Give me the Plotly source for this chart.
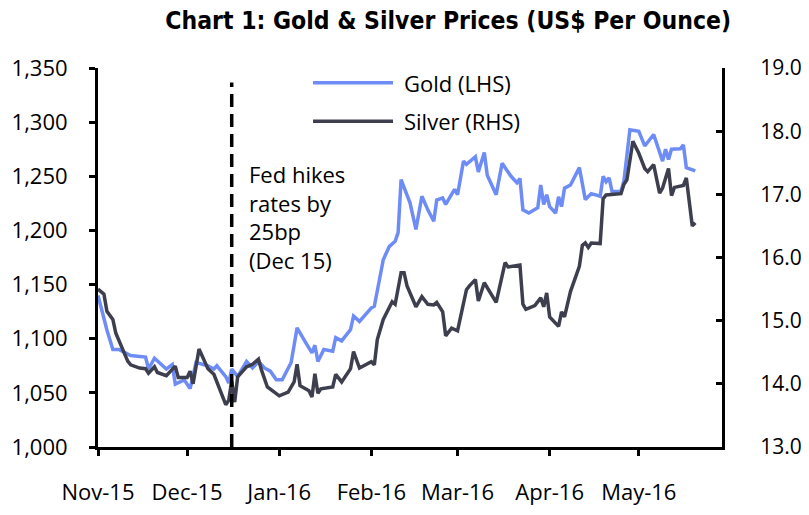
import plotly.graph_objects as go

gold_dates = [
    "2015-11-01", "2015-11-04", "2015-11-06", "2015-11-08", "2015-11-12", "2015-11-17",
    "2015-11-18", "2015-11-20", "2015-11-24", "2015-11-26", "2015-11-27", "2015-11-30",
    "2015-12-02", "2015-12-04", "2015-12-08", "2015-12-10", "2015-12-11", "2015-12-14",
    "2015-12-15", "2015-12-16", "2015-12-18", "2015-12-21", "2015-12-23", "2015-12-25",
    "2015-12-27", "2015-12-29", "2015-12-31", "2016-01-02", "2016-01-05", "2016-01-07",
    "2016-01-10", "2016-01-12", "2016-01-13", "2016-01-14", "2016-01-16", "2016-01-19",
    "2016-01-20", "2016-01-22", "2016-01-25", "2016-01-26", "2016-01-28", "2016-02-01",
    "2016-02-02", "2016-02-05", "2016-02-07", "2016-02-09", "2016-02-10", "2016-02-11",
    "2016-02-14", "2016-02-16", "2016-02-18", "2016-02-20", "2016-02-22", "2016-02-23",
    "2016-02-25", "2016-02-26", "2016-02-29", "2016-03-01", "2016-03-03", "2016-03-04",
    "2016-03-07", "2016-03-08", "2016-03-10", "2016-03-11", "2016-03-14", "2016-03-16",
    "2016-03-19", "2016-03-21", "2016-03-22", "2016-03-23", "2016-03-25", "2016-03-28",
    "2016-03-29", "2016-03-30", "2016-03-31", "2016-04-01", "2016-04-03", "2016-04-04",
    "2016-04-05", "2016-04-06", "2016-04-08", "2016-04-11", "2016-04-13", "2016-04-15",
    "2016-04-18", "2016-04-19", "2016-04-20", "2016-04-21", "2016-04-22", "2016-04-25",
    "2016-04-26", "2016-04-28", "2016-05-01", "2016-05-03", "2016-05-06", "2016-05-09",
    "2016-05-10", "2016-05-11", "2016-05-12", "2016-05-15", "2016-05-16", "2016-05-17",
    "2016-05-20",
]
gold_values = [
    1140, 1108, 1090, 1090, 1084.5, 1083,
    1072, 1082, 1072, 1076, 1058, 1062,
    1054, 1078, 1075, 1072, 1075, 1065,
    1059, 1072, 1065, 1079, 1073, 1079,
    1073, 1070, 1062, 1062, 1078, 1110,
    1096, 1087, 1094, 1079, 1090, 1088.5,
    1101, 1098, 1108.5, 1121, 1116, 1128.5,
    1130, 1173, 1185, 1190, 1198, 1247,
    1225.5, 1201, 1231.6, 1219, 1208.5, 1228,
    1230, 1224, 1238, 1233, 1264, 1261,
    1268, 1254, 1272, 1251, 1233, 1262,
    1250, 1244, 1248, 1219, 1216, 1221,
    1242, 1224, 1233, 1222, 1216, 1231,
    1222, 1239, 1242, 1258, 1228.5, 1234,
    1231.6, 1250, 1245, 1248.6, 1236, 1236,
    1246, 1293, 1291.6, 1278, 1288.6, 1264,
    1275, 1265.5, 1275, 1275.4, 1279, 1258,
    1255,
]

silver_dates = [
    "2015-11-01", "2015-11-03", "2015-11-04", "2015-11-06", "2015-11-07", "2015-11-09",
    "2015-11-11", "2015-11-12", "2015-11-15", "2015-11-17", "2015-11-18", "2015-11-20",
    "2015-11-21", "2015-11-24", "2015-11-26", "2015-11-27", "2015-11-28", "2015-12-01",
    "2015-12-02", "2015-12-03", "2015-12-05", "2015-12-07", "2015-12-08", "2015-12-10",
    "2015-12-12", "2015-12-14", "2015-12-15", "2015-12-16", "2015-12-17", "2015-12-18",
    "2015-12-21", "2015-12-23", "2015-12-25", "2015-12-26", "2015-12-28", "2016-01-01",
    "2016-01-04", "2016-01-06", "2016-01-07", "2016-01-08", "2016-01-11", "2016-01-12",
    "2016-01-13", "2016-01-14", "2016-01-15", "2016-01-19", "2016-01-20", "2016-01-22",
    "2016-01-25", "2016-01-26", "2016-01-28", "2016-02-01", "2016-02-02", "2016-02-03",
    "2016-02-05", "2016-02-08", "2016-02-09", "2016-02-11", "2016-02-12", "2016-02-13",
    "2016-02-16", "2016-02-18", "2016-02-20", "2016-02-22", "2016-02-23", "2016-02-25",
    "2016-02-26", "2016-02-28", "2016-03-01", "2016-03-04", "2016-03-05", "2016-03-07",
    "2016-03-08", "2016-03-10", "2016-03-14", "2016-03-17", "2016-03-18", "2016-03-22",
    "2016-03-23", "2016-03-24", "2016-03-27", "2016-03-29", "2016-03-30", "2016-03-31",
    "2016-04-01", "2016-04-04", "2016-04-05", "2016-04-06", "2016-04-08", "2016-04-11",
    "2016-04-12", "2016-04-13", "2016-04-14", "2016-04-15", "2016-04-18", "2016-04-19",
    "2016-04-20", "2016-04-25", "2016-04-26", "2016-04-27", "2016-04-29", "2016-05-01",
    "2016-05-03", "2016-05-04", "2016-05-06", "2016-05-08", "2016-05-09", "2016-05-11",
    "2016-05-12", "2016-05-13", "2016-05-16", "2016-05-17", "2016-05-19", "2016-05-20",
]
silver_values = [
    15.50, 15.42, 15.15, 15.02, 14.80, 14.57,
    14.36, 14.30, 14.25, 14.24, 14.17, 14.27,
    14.18, 14.13, 14.22, 14.28, 14.10, 14.10,
    14.20, 14.00, 14.55, 14.34, 14.24, 14.15,
    13.90, 13.67, 13.74, 14.05, 13.71, 14.11,
    14.27, 14.31, 14.39, 14.22, 13.95, 13.81,
    13.87, 14.03, 14.31, 13.97, 13.89, 13.79,
    14.16, 13.85, 13.92, 13.95, 14.15, 14.03,
    14.24, 14.51, 14.25, 14.35, 14.30, 14.70,
    15.02, 15.30, 15.26, 15.76, 15.76, 15.55,
    15.22, 15.38, 15.26, 15.25, 15.29, 15.14,
    14.76, 14.88, 14.84, 15.49, 15.55, 15.65,
    15.31, 15.60, 15.29, 15.92, 15.85, 15.88,
    15.26, 15.18, 15.24, 15.36, 15.22, 15.44,
    15.06, 14.91, 15.14, 15.06, 15.46, 15.86,
    16.19, 16.23, 16.16, 16.23, 16.22, 16.93,
    16.99, 17.01, 17.16, 17.23, 17.84, 17.65,
    17.41, 17.36, 17.47, 17.02, 17.10, 17.41,
    16.98, 17.11, 17.14, 17.26, 16.50, 16.55,
]

month_ticks = ["2015-11-01", "2015-12-01", "2016-01-01", "2016-02-01",
               "2016-03-01", "2016-04-01", "2016-05-01"]
month_labels = ["Nov-15", "Dec-15", "Jan-16", "Feb-16", "Mar-16", "Apr-16", "May-16"]
fed_date = "2015-12-16"

GOLD = "#6E8CF5"
SILVER = "#3D3F4E"
FONT = "Open Sans"

fig = go.Figure()
fig.add_trace(go.Scatter(x=gold_dates, y=gold_values, mode="lines", name="Gold (LHS)",
                         line=dict(color=GOLD, width=3.5), yaxis="y"))
fig.add_trace(go.Scatter(x=silver_dates, y=silver_values, mode="lines", name="Silver (RHS)",
                         line=dict(color=SILVER, width=3.5), yaxis="y2"))

fig.update_layout(
    width=809, height=515,
    margin=dict(l=98, r=87, t=68, b=68, autoexpand=False),
    paper_bgcolor="white", plot_bgcolor="white",
    showlegend=False,
    font=dict(family=FONT, size=22, color="black"),
    title=dict(text="<b>Chart 1: Gold &amp; Silver Prices (US$ Per Ounce)</b>",
               x=0.554, xref="container", xanchor="center",
               y=0.961, yref="container", yanchor="middle",
               font=dict(family="DejaVu Sans Condensed", size=24.5, color="black")),
    xaxis=dict(type="date", range=["2015-11-01", "2016-05-29"],
               tickvals=month_ticks, ticktext=month_labels,
               ticks="outside", ticklen=6, tickwidth=3, tickcolor="black",
               showline=True, linewidth=3, linecolor="black", automargin=False,
               showgrid=False, zeroline=False, ticklabelstandoff=18,
               tickfont=dict(size=22)),
    yaxis=dict(range=[1000, 1350], dtick=50, tick0=1000, tickformat=",",
               ticks="outside", ticklen=6, tickwidth=3, tickcolor="black",
               showline=True, linewidth=3, linecolor="black", automargin=False,
               showgrid=False, zeroline=False, ticklabelstandoff=17,
               tickfont=dict(size=22)),
    yaxis2=dict(range=[13, 19], dtick=1, tick0=13, tickformat=".1f",
                overlaying="y", side="right", automargin=False,
                ticks="inside", ticklen=6, tickwidth=3, tickcolor="black",
                showline=True, linewidth=3, linecolor="black",
                showgrid=False, zeroline=False, ticklabelstandoff=31,
                tickfont=dict(size=21)),
)

# Fed hike marker
fig.add_shape(type="line", xref="x", yref="paper", x0=fed_date, x1=fed_date, y0=0, y1=0.962,
              line=dict(color="black", width=3.5, dash="13px,7px"))
fig.add_annotation(xref="paper", yref="paper", x=0.2388, y=0.766, xanchor="left", yanchor="top",
                   text="Fed hikes<br>rates by<br>25bp<br>(Dec 15)", showarrow=False, align="left",
                   font=dict(size=22, color="black"))

# Custom legend
for yy, col, label in [(0.961, GOLD, "Gold (LHS)"), (0.8596, SILVER, "Silver (RHS)")]:
    fig.add_shape(type="line", xref="paper", yref="paper", x0=0.3446, x1=0.4728, y0=yy, y1=yy,
                  line=dict(color=col, width=3.5))
    fig.add_annotation(xref="paper", yref="paper", x=0.4872, y=yy, xanchor="left", yanchor="middle",
                       text=label, showarrow=False, font=dict(size=22, color="black"))

fig.write_html("out.html")
